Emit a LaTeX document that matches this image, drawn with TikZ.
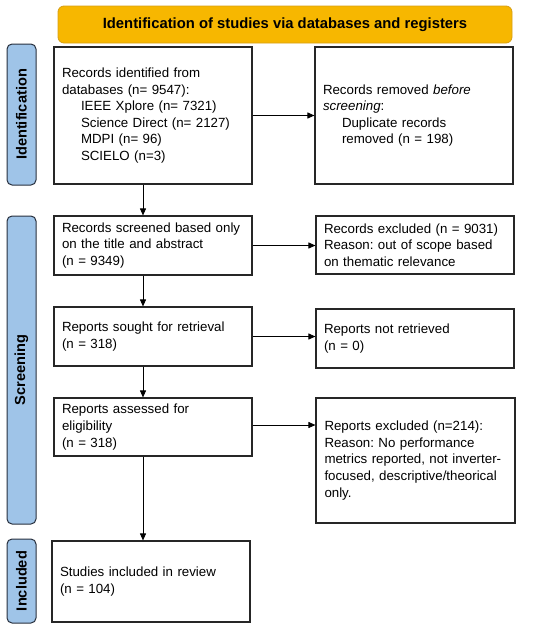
\documentclass[tikz,border=0pt]{standalone}
\usepackage{fontspec}
\setmainfont{Liberation Sans}
\usepackage{tikz}
\usetikzlibrary{arrows.meta,positioning}
\frenchspacing
\definecolor{cHead}{RGB}{247,183,0}
\definecolor{cHeadB}{RGB}{214,158,20}
\definecolor{cSide}{RGB}{159,196,232}
\definecolor{cSideB}{RGB}{40,48,62}
\tikzset{
  blk/.style={draw=black!85, line width=1.1pt, align=left, text width=182pt, inner xsep=8pt, minimum width=198pt, font=\fontsize{13.3}{16.6}\selectfont},
  hdr/.style={draw=cHeadB, fill=cHead, rounded corners=6pt, line width=0.8pt, minimum width=454pt, minimum height=37pt, font=\fontsize{14.8}{16}\selectfont\bfseries},
  side/.style={draw=cSideB, fill=cSide, rounded corners=5pt, line width=1pt, minimum height=29pt, rotate=90, font=\fontsize{14.6}{16}\selectfont\bfseries},
  arr/.style={-{Triangle[length=7pt,width=6pt]}, line width=0.9pt}
}
\newcommand{\ind}{\hspace*{19pt}}
\begin{document}
\begin{tikzpicture}[x=1pt,y=-1pt]
  \useasboundingbox (0,0) rectangle (550,630);
  \node[hdr] (head) at (285,24.5) {Identification of studies via databases and registers};
  % phase bars
  \node[side, minimum width=141pt] (sIdent) at (21.5,114.5) {Identification};
  \node[side, minimum width=308pt] (sScreen) at (21.5,370) {Screening};
  \node[side, minimum width=84pt] (sIncl) at (21.5,581) {Included};
  % main column
  \node[blk, minimum height=137pt] (recId) at (153,115.5) {Records identified from\\databases (n= 9547):\\\ind IEEE Xplore (n= 7321)\\\ind Science Direct (n= 2127)\\\ind MDPI (n= 96)\\\ind SCIELO (n=3)};
  \node[blk, minimum height=59pt] (recScr) at (153,245.5) {Records screened based only\\on the title and abstract\\(n = 9349)};
  \node[blk, minimum height=59pt] (repSought) at (153,336.5) {Reports sought for retrieval\\(n = 318)};
  \node[blk, minimum height=58pt] (repAss) at (153,427) {Reports assessed for\\eligibility\\(n = 318)};
  \node[blk, minimum height=81pt] (incl) at (151,581.5) {Studies included in review\\(n = 104)};
  % side column
  \node[blk, minimum height=137pt] (recRem) at (414,115.5) {Records removed \textit{before}\\\textit{screening}:\\\ind Duplicate records\\\ind removed (n = 198)};
  \node[blk, minimum height=58pt] (recExc) at (415,245) {Records excluded (n = 9031)\\Reason: out of scope based\\on thematic relevance};
  \node[blk, minimum height=59pt] (repNot) at (415,338.5) {Reports not retrieved\\(n = 0)};
  \node[blk, minimum height=125pt, minimum width=199pt] (repExc) at (415.5,460.5) {Reports excluded (n=214):\\Reason: No performance\\metrics reported, not inverter-\\focused, descriptive/theorical\\only.};
  % arrows
  \draw[arr] (recId.east) -- (recRem.west);
  \draw[arr] (recScr.east) -- (recScr.east -| recExc.west);
  \draw[arr] (repSought.east) -- (repSought.east -| repNot.west);
  \draw[arr] ([yshift=2pt]repAss.east) -- ([yshift=2pt]repAss.east -| repExc.west);
  \foreach \a/\b in {recId/recScr, recScr/repSought, repSought/repAss, repAss/incl}
    \draw[arr] ([xshift=-10pt]\a.south) -- ([xshift=-10pt]\a.south |- \b.north);
\end{tikzpicture}
\end{document}
